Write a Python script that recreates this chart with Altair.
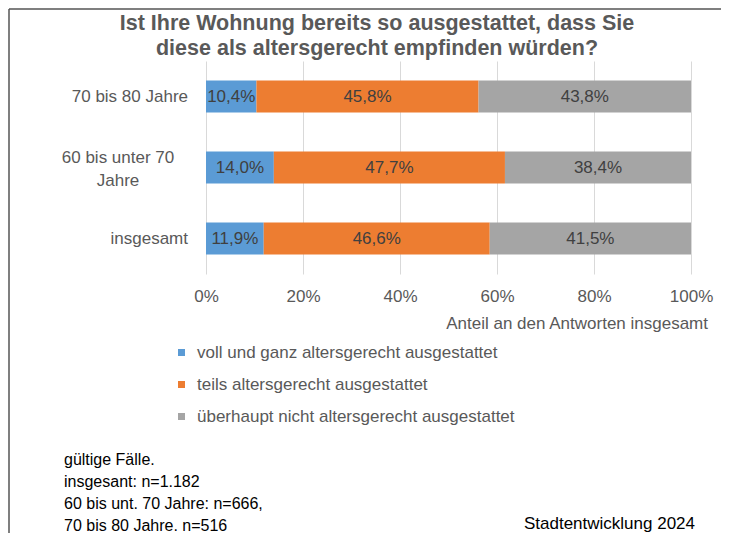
import altair as alt
import pandas as pd

# ---------------- data ----------------
groups = ["70 bis 80 Jahre", "60 bis unter 70 Jahre", "insgesamt"]
group_labels = ["70 bis 80 Jahre", "60 bis unter 70\nJahre", "insgesamt"]
categories = [
    "voll und ganz altersgerecht ausgestattet",
    "teils altersgerecht ausgestattet",
    "überhaupt nicht altersgerecht ausgestattet",
]
colors = ["#5B9BD5", "#ED7D31", "#A5A5A5"]
voll = [10.4, 14.0, 11.9]
teils = [45.8, 47.7, 46.6]
nicht = [43.8, 38.4, 41.5]
x_ticks = [0, 0.2, 0.4, 0.6, 0.8, 1.0]

title_line1 = "Ist Ihre Wohnung bereits so ausgestattet, dass Sie"
title_line2 = "diese als altersgerecht empfinden würden?"
x_title = "Anteil an den Antworten insgesamt"
footnote = ["gültige Fälle.", "insgesant: n=1.182", "60 bis unt. 70 Jahre: n=666,", "70 bis 80 Jahre. n=516"]
source = "Stadtentwicklung 2024"

rows = []
for gi, g in enumerate(groups):
    for ci, (c, vals) in enumerate(zip(categories, [voll, teils, nicht])):
        rows.append({"group": g, "category": c, "order": ci, "value": vals[gi]})
df = pd.DataFrame(rows)

lab_df = pd.DataFrame({"group": groups, "label": group_labels})
lab_df["multi"] = lab_df["label"].str.contains("\n")

FONT = "Liberation Sans"
TXT = "#595959"
W, H = 485, 213

y_enc = alt.Y(
    "group:N", sort=groups, axis=None,
    scale=alt.Scale(paddingInner=0.55, paddingOuter=0.275),
)

base = (
    alt.Chart(df)
    .transform_stack(
        stack="value", groupby=["group"], as_=["v0", "v1"], offset="normalize",
        sort=[alt.SortField(field="order", order="ascending")],
    )
    .transform_calculate(
        mid="(datum.v0 + datum.v1) / 2",
        label="replace(format(datum.value, '.1f'), '.', ',') + '%'",
    )
)

bars = base.mark_bar().encode(
    x=alt.X(
        "v0:Q", title=None, scale=alt.Scale(domain=[0, 1], nice=False),
        axis=alt.Axis(
            values=x_ticks, format=".0%", grid=True, gridColor="#D9D9D9",
            domain=False, ticks=False, labelFlush=False, labelOverlap=False,
            labelFont=FONT, labelFontSize=17, labelColor=TXT, labelPadding=14,
        ),
    ),
    x2="v1:Q",
    y=y_enc,
    color=alt.Color(
        "category:N",
        scale=alt.Scale(domain=categories, range=colors),
        legend=alt.Legend(
            orient="none", legendX=-33, legendY=283, title=None,
            symbolType="square", symbolSize=49, symbolStrokeWidth=0,
            labelFont=FONT, labelFontSize=17, labelColor=TXT,
            rowPadding=14, labelOffset=7, padding=0, direction="vertical",
            labelLimit=0,
        ),
    ),
)

bar_text = base.mark_text(font=FONT, fontSize=17, color="#404040", baseline="middle").encode(
    x="mid:Q", y=y_enc, text="label:N"
)

ylab_single = (
    alt.Chart(lab_df).transform_filter("!datum.multi")
    .mark_text(font=FONT, fontSize=17, color=TXT, align="right", baseline="middle")
    .encode(x=alt.value(-18), y=y_enc, text="label:N")
)
ylab_multi = (
    alt.Chart(lab_df).transform_filter("datum.multi")
    .mark_text(font=FONT, fontSize=17, color=TXT, align="center", baseline="middle",
               lineBreak="\n", lineHeight=23, dy=-10)
    .encode(x=alt.value(-88), y=y_enc, text="label:N")
)

one = pd.DataFrame({"a": [0]})

t1 = alt.Chart(one).mark_text(
    font=FONT, fontSize=21.5, fontWeight="bold", color=TXT, align="center", baseline="middle"
).encode(x=alt.value(171), y=alt.value(-37), text=alt.value(title_line1))
t2 = alt.Chart(one).mark_text(
    font=FONT, fontSize=21.5, fontWeight="bold", color=TXT, align="center", baseline="middle"
).encode(x=alt.value(171), y=alt.value(-12), text=alt.value(title_line2))

xt = alt.Chart(one).mark_text(
    font=FONT, fontSize=17, color=TXT, align="right", baseline="middle"
).encode(x=alt.value(502), y=alt.value(263), text=alt.value(x_title))

foot = alt.Chart(one).mark_text(
    font=FONT, fontSize=16, color="#000000", align="left", baseline="top",
    lineBreak="\n", lineHeight=22,
).encode(x=alt.value(-142), y=alt.value(391), text=alt.value("\n".join(footnote)))

src = alt.Chart(one).mark_text(
    font=FONT, fontSize=17, color="#000000", align="right", baseline="middle"
).encode(x=alt.value(489), y=alt.value(463), text=alt.value(source))

frame_left = alt.Chart(one).mark_rule(color="#555555", strokeWidth=1.5).encode(
    x=alt.value(-197), y=alt.value(-52), y2=alt.value(472)
)
frame_top = alt.Chart(one).mark_rule(color="#555555", strokeWidth=1.5).encode(
    x=alt.value(-197), x2=alt.value(515), y=alt.value(-52)
)

chart = (
    alt.layer(frame_left, frame_top, bars, bar_text, ylab_single, ylab_multi, t1, t2, xt, foot, src)
    .properties(width=W, height=H, padding=0, background="#FFFFFF")
    .configure_view(stroke=None)
)

chart.save("out.html", embed_options={"renderer": "svg", "actions": False})
